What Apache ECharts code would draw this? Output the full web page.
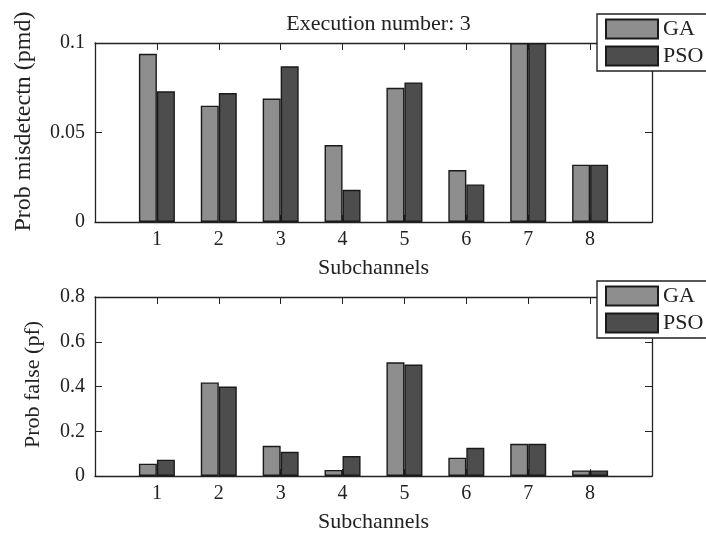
<!DOCTYPE html>
<html>
<head>
<meta charset="utf-8">
<script src="https://cdn.jsdelivr.net/npm/echarts@6/dist/echarts.min.js"></script>
<style>
  html, body { margin: 0; padding: 0; background: #fff; }
  #chart { width: 706px; height: 534px; }
</style>
</head>
<body>
<div id="chart"></div>
<script>
// Subchannel indices and per-algorithm results (execution 3)
const subchannels = ['1', '2', '3', '4', '5', '6', '7', '8'];
const pmdGA  = [0.094, 0.065, 0.069, 0.043, 0.075, 0.029, 0.100, 0.032];
const pmdPSO = [0.073, 0.072, 0.087, 0.018, 0.078, 0.021, 0.100, 0.032];
const pfGA   = [0.055, 0.418, 0.135, 0.027, 0.508, 0.082, 0.144, 0.025];
const pfPSO  = [0.073, 0.400, 0.108, 0.089, 0.498, 0.126, 0.144, 0.025];
const pmdTicks = [0, 0.05, 0.1];
const pfTicks  = [0, 0.2, 0.4, 0.6, 0.8];

const FONT = 'Liberation Serif';
const INK = '#222';
const GA_COLOR = '#8e8e8e';
const PSO_COLOR = '#4d4d4d';

// Category axis padded with one empty slot on each side so ticks 1..8 sit inside the frame
const axisCats = [''].concat(subchannels, ['']);
const pad = arr => ['-'].concat(arr, ['-']);

function bottomAxis(gridIndex) {
  return {
    type: 'category', gridIndex, data: axisCats, boundaryGap: false, position: 'bottom',
    name: 'Subchannels', nameLocation: 'middle', nameGap: 35,
    nameTextStyle: { fontFamily: FONT, fontSize: 22, color: INK },
    axisLine: { onZero: false, lineStyle: { color: INK, width: 1.3 } },
    axisTick: { inside: true, length: 7, lineStyle: { color: INK },
      interval: (i, v) => v !== '' },
    axisLabel: { fontFamily: FONT, fontSize: 20, color: INK, margin: 8 },
    splitLine: { show: false }
  };
}
function topAxis(gridIndex) {
  return {
    type: 'category', gridIndex, data: axisCats, boundaryGap: false, position: 'top',
    axisLine: { onZero: false, lineStyle: { color: INK, width: 1.3 } },
    axisTick: { inside: true, length: 7, lineStyle: { color: INK },
      interval: (i, v) => v !== '' },
    axisLabel: { show: false },
    splitLine: { show: false }
  };
}
function leftAxis(gridIndex, ticks, name, gap, shift, size) {
  return {
    type: 'value', gridIndex, position: 'left',
    min: ticks[0], max: ticks[ticks.length - 1], interval: ticks[1] - ticks[0],
    name, nameLocation: 'middle', nameGap: gap,
    nameTextStyle: { fontFamily: FONT, fontSize: size, color: INK, padding: [0, 0, 0, shift] },
    axisLine: { show: true, onZero: false, lineStyle: { color: INK, width: 1.3 } },
    axisTick: { show: true, inside: true, length: 7, lineStyle: { color: INK } },
    axisLabel: { fontFamily: FONT, fontSize: 20, color: INK, margin: 10,
      formatter: v => String(+v.toFixed(3)) },
    splitLine: { show: false }
  };
}
function rightAxis(gridIndex, ticks) {
  return {
    type: 'value', gridIndex, position: 'right',
    min: ticks[0], max: ticks[ticks.length - 1], interval: ticks[1] - ticks[0],
    axisLine: { show: true, onZero: false, lineStyle: { color: INK, width: 1.3 } },
    axisTick: { show: true, inside: true, length: 7, lineStyle: { color: INK } },
    axisLabel: { show: false },
    splitLine: { show: false }
  };
}
function barSeries(name, color, data, xi, yi) {
  return {
    type: 'bar', name, data: pad(data), xAxisIndex: xi, yAxisIndex: yi,
    barWidth: 18, barGap: '0%',
    itemStyle: { color, borderColor: '#1a1a1a', borderWidth: 1.4 },
    emphasis: { disabled: true }, animation: false
  };
}
function legendAt(top) {
  return {
    orient: 'vertical', left: 597, top,
    data: ['GA', 'PSO'], icon: 'rect', itemWidth: 52, itemHeight: 19, itemGap: 5,
    padding: [4, 30, 4, 8],
    borderColor: INK, borderWidth: 1.4, backgroundColor: '#fff',
    textStyle: { fontFamily: FONT, fontSize: 22, color: INK }
  };
}

const chart = echarts.init(document.getElementById('chart'), null, { renderer: 'canvas' });
chart.setOption({
  backgroundColor: '#fff',
  animation: false,
  title: {
    text: 'Execution number: 3', left: 373.5, top: 8, textAlign: 'center',
    textStyle: { fontFamily: FONT, fontSize: 22, fontWeight: 'normal', color: INK }
  },
  legend: [legendAt(14), legendAt(281)],
  grid: [
    { left: 95, width: 557, top: 43, height: 179 },
    { left: 95, width: 557, top: 297, height: 180 }
  ],
  xAxis: [bottomAxis(0), topAxis(0), bottomAxis(1), topAxis(1)],
  yAxis: [
    leftAxis(0, pmdTicks, 'Prob misdetectn (pmd)', 59, 22, 24), rightAxis(0, pmdTicks),
    leftAxis(1, pfTicks, 'Prob false (pf)', 51, 4, 22), rightAxis(1, pfTicks)
  ],
  series: [
    barSeries('GA', GA_COLOR, pmdGA, 0, 0),
    barSeries('PSO', PSO_COLOR, pmdPSO, 0, 0),
    barSeries('GA', GA_COLOR, pfGA, 2, 2),
    barSeries('PSO', PSO_COLOR, pfPSO, 2, 2)
  ]
});
</script>
</body>
</html>
